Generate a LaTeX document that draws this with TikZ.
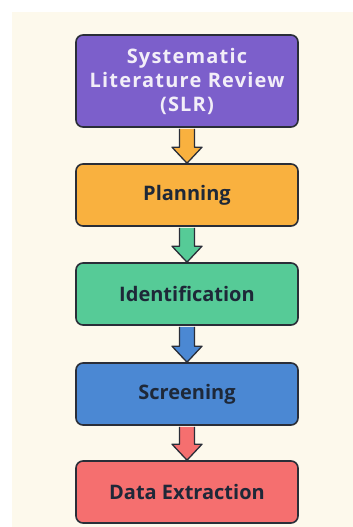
\documentclass[tikz,border=0pt]{standalone}
\usepackage{fontspec}
\setmainfont{Open Sans}
\newfontfamily\slrfont[LetterSpace=6]{Open Sans}
\usetikzlibrary{positioning,calc}
\definecolor{cream}{HTML}{FDF9EC}
\definecolor{outline}{HTML}{2A2E38}
\definecolor{ink}{HTML}{1E2838}
\definecolor{slrfill}{HTML}{7C5FCB}
\definecolor{slrtext}{HTML}{F2EEF8}
\definecolor{planfill}{HTML}{F9B13F}
\definecolor{identfill}{HTML}{56CB97}
\definecolor{screenfill}{HTML}{4B88D3}
\definecolor{extractfill}{HTML}{F56F6F}

\begin{document}
\begin{tikzpicture}[x=1pt,y=1pt,
  stage/.style={draw=outline,line width=1.6pt,rounded corners=7pt,minimum width=222pt,minimum height=62pt,
    font=\bfseries\fontsize{20}{24}\selectfont,text=ink,align=center},
  flow/.style={draw=outline,line width=1.3pt,line join=round}]
  \useasboundingbox (0,0) rectangle (353,527);
  \fill[cream] (12,0) rectangle (353,515);
  % stages of the review
  \node[stage,fill=slrfill,text=slrtext,minimum height=92pt,font=\slrfont\bfseries\fontsize{20}{24}\selectfont] (slr) at (187,446) {Systematic\\Literature Review\\(SLR)};
  \node[stage,fill=planfill] (plan) at (187,332) {Planning};
  \node[stage,fill=identfill] (ident) at (187,233) {Identification};
  \node[stage,fill=screenfill] (screen) at (187,133) {Screening};
  \node[stage,fill=extractfill] (extract) at (187,35) {Data Extraction};
  % block arrows between stages
  \foreach \a/\b/\c in {slr/plan/planfill,plan/ident/identfill,ident/screen/screenfill,screen/extract/extractfill}
    \filldraw[flow,fill=\c] ($(\a.south)+(-7.5,-1)$) -- ($(\b.north)+(-7.5,16)$) -- ($(\b.north)+(-15,16)$) -- (\b.north)
      -- ($(\b.north)+(15,16)$) -- ($(\b.north)+(7.5,16)$) -- ($(\a.south)+(7.5,-1)$);
\end{tikzpicture}
\end{document}
